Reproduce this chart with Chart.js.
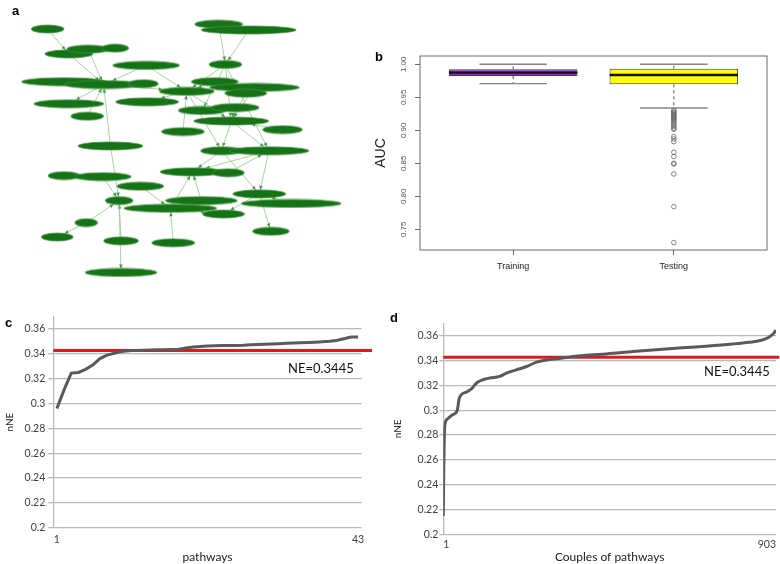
<!DOCTYPE html>
<html>
<head>
<meta charset="utf-8">
<script src="https://cdn.jsdelivr.net/npm/chart.js@4.4.1/dist/chart.umd.min.js"></script>
<style>
  body { margin: 0; background: #fff; }
  #wrap { position: relative; width: 780px; height: 564px; overflow: hidden; background: #fff; }
  canvas { position: absolute; }
  .tag { position: absolute; font: bold 13px "Liberation Sans", Arial, sans-serif; line-height: 1; color: #000; }
  .ne { position: absolute; font: 13px Lato, sans-serif; line-height: 1; color: #111; }
</style>
</head>
<body>
<div id="wrap">
  <canvas id="netChart" style="left:0;top:0;width:360px;height:290px" width="360" height="290"></canvas>
  <canvas id="aucChart" style="left:360px;top:40px;width:420px;height:250px" width="420" height="250"></canvas>
  <canvas id="pathChart" style="left:0;top:300px;width:390px;height:264px" width="390" height="264"></canvas>
  <canvas id="coupleChart" style="left:385px;top:300px;width:395px;height:264px" width="395" height="264"></canvas>
  <div class="tag" style="left:12px;top:4px">a</div>
  <div class="tag" style="left:375px;top:50px">b</div>
  <div class="tag" style="left:5px;top:316px">c</div>
  <div class="tag" style="left:390px;top:311px">d</div>
  <div class="ne" style="left:288px;top:362px">NE=0.3445</div>
  <div class="ne" style="left:704px;top:365px">NE=0.3445</div>
</div>
<script>
// ---- panel a : pathway network ----
const nodeX = [43, 220, 251, 65, 85, 113, 145, 227, 60, 101, 142, 187, 216, 257, 248, 65, 146, 84, 203, 237,
               233, 183, 286, 108, 223, 272, 60, 100, 139, 193, 230, 117, 170, 202, 262, 295, 225, 83, 53, 119, 173, 274, 119];
const nodeY = [24, 19, 25, 50, 45, 44, 62, 61, 79, 82, 81, 89, 79, 85, 91, 102, 100, 115, 109, 106,
               120, 131, 129, 146, 151, 151, 177, 178, 188, 173, 174, 203, 211, 203, 196, 206, 217, 226, 241, 245, 247, 235, 278];
const nodeW = [33, 48, 95, 48, 43, 27, 67, 33, 85, 78, 30, 55, 47, 90, 42, 70, 63, 33, 48, 48,
               75, 43, 40, 65, 42, 80, 32, 57, 47, 65, 32, 28, 93, 72, 53, 100, 42, 23, 32, 35, 43, 37, 72];
const edges = [[0, 3], [3, 9], [4, 9], [6, 9], [10, 9], [9, 15], [17, 9], [23, 9], [11, 16], [9, 11], [6, 11],
               [1, 7], [2, 7], [7, 11], [7, 18], [7, 20], [12, 11], [13, 20], [14, 20], [11, 20], [19, 20], [21, 11],
               [20, 24], [20, 25], [22, 20], [11, 24], [7, 25], [24, 29], [25, 29], [32, 29], [33, 29], [25, 34],
               [34, 36], [35, 34], [34, 41], [24, 34], [30, 25], [23, 31], [27, 31], [28, 32], [37, 31], [37, 38],
               [39, 31], [31, 42], [40, 32], [32, 36]];
const NODE_H = 8;

// ---- panel b : AUC boxplots ----
const groups = ['Training', 'Testing'];
const groupPos = [1, 2];
const boxLow = [0.9823, 0.9697];
const boxHigh = [0.9924, 0.9934];
const medians = [0.9874, 0.9838];
const whiskLow = [0.9707, 0.9338];
const whiskHigh = [1.0, 1.0];
const testOutliers = [0.9305, 0.9290, 0.9272, 0.9258, 0.9242, 0.9228, 0.9212, 0.9196, 0.9182, 0.9166, 0.9150,
                      0.9130, 0.9105, 0.9080, 0.9055, 0.9032, 0.9015, 0.8904, 0.8869, 0.8828, 0.8667, 0.8601,
                      0.8500, 0.8490, 0.8338, 0.7843, 0.7298];
const aucTicks = [0.75, 0.80, 0.85, 0.90, 0.95, 1.00];

// ---- panel c : single pathways ----
const pathNNE = [0.2960, 0.3110, 0.3245, 0.3250, 0.3275, 0.3310, 0.3362, 0.3390, 0.3405, 0.3418,
                 0.3424, 0.3428, 0.3430, 0.3432, 0.3433, 0.3434, 0.3436, 0.3438, 0.3447, 0.3456,
                 0.3460, 0.3463, 0.3466, 0.3467, 0.3467, 0.3468, 0.3469, 0.3474, 0.3476, 0.3477,
                 0.3479, 0.3482, 0.3485, 0.3487, 0.3489, 0.3492, 0.3494, 0.3497, 0.3501, 0.3508,
                 0.3522, 0.3535, 0.3536];
const pathTicks = [1, 43];

// ---- panel d : couples of pathways ----
const coupleRank = [1, 2, 3, 4, 6, 14, 24, 33, 39, 44, 51, 64, 78, 91, 109, 127, 154, 172, 199, 227,
                    254, 281, 317, 353, 398, 443, 515, 605, 695, 785, 830, 866, 884, 895, 903];
const coupleNNE = [0.2148, 0.2450, 0.2680, 0.2820, 0.2893, 0.2933, 0.2960, 0.2973, 0.3000, 0.3093,
                   0.3128, 0.3147, 0.3173, 0.3219, 0.3245, 0.3259, 0.3272, 0.3299, 0.3325, 0.3352,
                   0.3387, 0.3405, 0.3416, 0.3432, 0.3445, 0.3453, 0.3472, 0.3493, 0.3512, 0.3533,
                   0.3547, 0.3565, 0.3587, 0.3613, 0.3645];
const coupleTicks = [1, 903];

const nneTicks = [0.2, 0.22, 0.24, 0.26, 0.28, 0.3, 0.32, 0.34, 0.36];
const neLevel = 0.3426;

Chart.defaults.animation = false;
Chart.defaults.events = [];
Chart.defaults.plugins.legend.display = false;
Chart.defaults.plugins.tooltip.enabled = false;

// ellipse images used as point styles for the network nodes
function ellipseImage(w) {
  const c = document.createElement('canvas');
  c.width = w + 2;
  c.height = NODE_H + 2;
  const g = c.getContext('2d');
  g.fillStyle = '#167216';
  g.strokeStyle = 'rgba(70,150,70,0.7)';
  g.lineWidth = 1;
  g.beginPath();
  g.ellipse(c.width / 2, c.height / 2, w / 2, NODE_H / 2, 0, 0, Math.PI * 2);
  g.fill();
  g.stroke();
  return c;
}

const edgePlugin = {
  id: 'edges',
  beforeDatasetsDraw(chart) {
    const { ctx, scales: { x, y } } = chart;
    ctx.save();
    edges.forEach(([s, t]) => {
      const x1 = x.getPixelForValue(nodeX[s]), y1 = y.getPixelForValue(nodeY[s]);
      const x2 = x.getPixelForValue(nodeX[t]), y2 = y.getPixelForValue(nodeY[t]);
      ctx.strokeStyle = 'rgba(150,205,140,0.85)';
      ctx.lineWidth = 1;
      ctx.beginPath();
      ctx.moveTo(x1, y1);
      ctx.lineTo(x2, y2);
      ctx.stroke();
      const dx = x2 - x1, dy = y2 - y1, len = Math.hypot(dx, dy);
      const k = 1 / Math.sqrt(Math.pow(dx / (nodeW[t] / 2), 2) + Math.pow(dy / (NODE_H / 2), 2));
      if (k >= 1) return;
      const bx = x2 - dx * k, by = y2 - dy * k;
      const ux = dx / len, uy = dy / len;
      ctx.fillStyle = '#4d944d';
      ctx.beginPath();
      ctx.moveTo(bx, by);
      ctx.lineTo(bx - ux * 4 - uy * 1.8, by - uy * 4 + ux * 1.8);
      ctx.lineTo(bx - ux * 4 + uy * 1.8, by - uy * 4 - ux * 1.8);
      ctx.closePath();
      ctx.fill();
    });
    ctx.restore();
  }
};

new Chart(document.getElementById('netChart'), {
  type: 'scatter',
  data: {
    datasets: [{
      data: nodeX.map((v, i) => ({ x: v, y: nodeY[i] })),
      pointStyle: nodeW.map(ellipseImage),
      pointRadius: 5
    }]
  },
  options: {
    responsive: false,
    layout: { padding: 0 },
    scales: {
      x: { type: 'linear', display: false, min: 0, max: 360 },
      y: { type: 'linear', display: false, min: 0, max: 290, reverse: true }
    }
  },
  plugins: [edgePlugin]
});

// whiskers, staples, medians and the frame of the boxplot
const boxPlugin = {
  id: 'boxParts',
  afterDatasetsDraw(chart) {
    const { ctx, chartArea: a, scales: { x, y } } = chart;
    const seg = (x1, y1, x2, y2) => { ctx.beginPath(); ctx.moveTo(x1, y1); ctx.lineTo(x2, y2); ctx.stroke(); };
    ctx.save();
    groupPos.forEach((p, i) => {
      const cx = x.getPixelForValue(p);
      const staple = x.getPixelForValue(p + 0.21) - cx;
      const half = x.getPixelForValue(p + 0.4) - cx;
      ctx.strokeStyle = '#555';
      ctx.lineWidth = 1;
      ctx.setLineDash([3, 3]);
      seg(cx, y.getPixelForValue(boxHigh[i]), cx, y.getPixelForValue(whiskHigh[i]));
      seg(cx, y.getPixelForValue(boxLow[i]), cx, y.getPixelForValue(whiskLow[i]));
      ctx.setLineDash([]);
      ctx.strokeStyle = '#858585';
      ctx.lineWidth = 1.4;
      seg(cx - staple, y.getPixelForValue(whiskHigh[i]), cx + staple, y.getPixelForValue(whiskHigh[i]));
      seg(cx - staple, y.getPixelForValue(whiskLow[i]), cx + staple, y.getPixelForValue(whiskLow[i]));
      ctx.strokeStyle = '#111';
      ctx.lineWidth = 2.4;
      seg(cx - half, y.getPixelForValue(medians[i]), cx + half, y.getPixelForValue(medians[i]));
    });
    ctx.strokeStyle = '#6a6a6a';
    ctx.lineWidth = 1;
    ctx.strokeRect(a.left, a.top, a.width, a.height);
    ctx.restore();
  }
};

new Chart(document.getElementById('aucChart'), {
  type: 'bar',
  data: {
    datasets: [{
      type: 'bar',
      data: groupPos.map((p, i) => ({ x: p, y: [boxLow[i], boxHigh[i]] })),
      backgroundColor: ['#A020F0', '#FFFF00'],
      borderColor: '#3a3a3a',
      borderWidth: 1,
      borderSkipped: false,
      barPercentage: 0.8,
      categoryPercentage: 1
    }, {
      type: 'scatter',
      data: testOutliers.map(v => ({ x: 2, y: v })),
      pointStyle: 'circle',
      pointRadius: 2.3,
      borderWidth: 0.8,
      borderColor: '#666',
      backgroundColor: 'rgba(0,0,0,0)'
    }]
  },
  options: {
    responsive: false,
    layout: { padding: { top: 16, right: 13, left: 0, bottom: 0 } },
    font: { family: '"Liberation Sans", Arial, sans-serif' },
    scales: {
      x: {
        type: 'linear', min: 0.42, max: 2.58, offset: false,
        afterBuildTicks: s => { s.ticks = groupPos.map(v => ({ value: v })); },
        afterFit: s => { s.height = 40; },
        grid: { display: true, offset: false, drawOnChartArea: false, drawTicks: true, tickLength: 5, color: '#6a6a6a' },
        border: { display: false },
        ticks: {
          callback: v => groups[groupPos.indexOf(v)],
          color: '#222', padding: 6, maxRotation: 0, autoSkip: false,
          font: { family: '"Liberation Sans", Arial, sans-serif', size: 9 }
        }
      },
      y: {
        type: 'linear', min: 0.7186, max: 1.0126,
        afterBuildTicks: s => { s.ticks = aucTicks.map(v => ({ value: v })); },
        afterFit: s => { s.width = 60; },
        grid: { display: true, drawOnChartArea: false, drawTicks: true, tickLength: 5, color: '#6a6a6a' },
        border: { display: false },
        ticks: {
          callback: v => v.toFixed(2),
          minRotation: 90, maxRotation: 90, crossAlign: 'center',
          color: '#555', padding: 3,
          font: { family: '"Liberation Sans", Arial, sans-serif', size: 8 }
        },
        title: {
          display: true, text: 'AUC', color: '#222', padding: { top: 13, bottom: 0 },
          font: { family: '"Liberation Sans", Arial, sans-serif', size: 14 }
        }
      }
    }
  },
  plugins: [boxPlugin]
});

// ---- Excel-like line charts (c, d) ----
function nneChart(id, points, xMin, xMax, neRight, xTicks, opts) {
  return new Chart(document.getElementById(id), {
    type: 'line',
    data: {
      datasets: [{
        data: points,
        borderColor: '#5a5a5a',
        borderWidth: 3,
        pointRadius: 0,
        tension: opts.tension,
        cubicInterpolationMode: opts.mode
      }, {
        data: [{ x: xMin, y: neLevel }, { x: neRight, y: neLevel }],
        borderColor: '#e2191b',
        borderWidth: 3,
        pointRadius: 0,
        clip: false
      }]
    },
    options: {
      responsive: false,
      layout: { padding: { top: opts.top, right: opts.right, left: 0, bottom: 0 } },
      scales: {
        x: {
          type: 'linear', min: xMin, max: xMax,
          afterBuildTicks: s => { s.ticks = xTicks.map(v => ({ value: v })); },
          afterFit: s => { s.height = opts.xHeight; },
          grid: { display: false, drawTicks: false },
          border: { display: false },
          ticks: {
            color: '#404040', padding: opts.xPad, maxRotation: 0, autoSkip: false, align: opts.align,
            font: { family: 'Lato, sans-serif', size: 10.5 }
          },
          title: {
            display: true, text: opts.xTitle, color: '#222', padding: { top: 0, bottom: 0 },
            font: { family: 'Lato, sans-serif', size: 12 }
          }
        },
        y: {
          type: 'linear', min: 0.2, max: 0.37,
          afterBuildTicks: s => { s.ticks = nneTicks.map(v => ({ value: v })); },
          afterFit: s => { s.width = opts.yWidth; },
          grid: { color: '#b9b9b9', lineWidth: 1.3, tickLength: opts.tick },
          border: { color: '#b9b9b9', width: 1.3 },
          ticks: {
            callback: v => String(+v.toFixed(2)),
            color: '#404040', padding: opts.yPad,
            font: { family: 'Lato, sans-serif', size: 10.5 }
          },
          title: {
            display: true, text: 'nNE', color: '#222', padding: { top: opts.titlePad, bottom: 0 },
            font: { family: 'Lato, sans-serif', size: 10 }
          }
        }
      }
    }
  });
}

nneChart('pathChart', pathNNE.map((v, i) => ({ x: i + 1, y: v })), 0.5, 43.5, 44.94, pathTicks, {
  tension: 0, mode: 'default', top: 16.6, right: 28.3, xHeight: 36.3, xPad: 6, align: 'center',
  xTitle: 'pathways', yWidth: 53.3, tick: 5, yPad: 3, titlePad: 4
});

nneChart('coupleChart', coupleRank.map((r, i) => ({ x: r, y: coupleNNE[i] })), 1, 903, 912, coupleTicks, {
  tension: 0.4, mode: 'monotone', top: 23.3, right: 3.3, xHeight: 29.7, xPad: 4, align: 'inner',
  xTitle: 'Couples of pathways', yWidth: 58.3, tick: 4, yPad: 1, titlePad: 7
});
</script>
</body>
</html>
